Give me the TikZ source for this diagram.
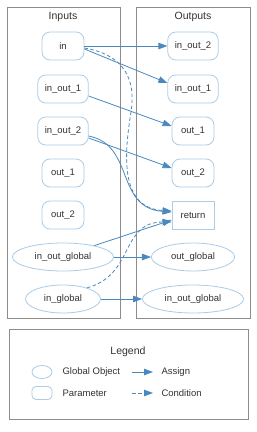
\documentclass[tikz,border=0pt]{standalone}
\usepackage{fontspec}
\setmainfont{Liberation Sans}
\usepackage{tikz}
\usetikzlibrary{arrows.meta, positioning, shapes.geometric}
\definecolor{nodeBorder}{HTML}{A9CCE9}
\definecolor{edgeBlue}{HTML}{4A89BF}
\definecolor{clusterGray}{HTML}{8C8C8C}

\begin{document}
\begin{tikzpicture}[x=1pt, y=-1pt,
    every node/.style={font=\fontsize{9.5}{11}\selectfont, text=black!80},
    param/.style={
        rectangle, rounded corners=8pt, draw=nodeBorder, line width=0.8pt,
        minimum width=42pt, minimum height=28pt, inner xsep=7pt,
    },
    retbox/.style={
        rectangle, draw=nodeBorder, line width=0.8pt,
        minimum width=42pt, minimum height=28pt,
    },
    globalobj/.style={
        ellipse, draw=nodeBorder, line width=0.8pt,
        minimum height=28pt, inner xsep=7.5pt,
    },
    cluster/.style={draw=clusterGray, line width=0.8pt},
    clustertitle/.style={font=\fontsize{10.5}{12}\selectfont},
    assign/.style={
        draw=edgeBlue, line width=0.8pt,
        -{Triangle[length=9pt, width=6.5pt]},
    },
    condition/.style={assign, dash pattern=on 3.5pt off 2.5pt},
]

\def\colIn{63}
\def\colOut{193}

% Canvas
\fill[white] (0, 0) rectangle (257, 432);
\useasboundingbox (0, 0) rectangle (257, 432);

% ── Cluster: Inputs ────────────────────────────────────────────────────
\draw[cluster] (7, 7) rectangle (120, 318);
\node[clustertitle] (tIn) at (\colIn, 17) {Inputs};

\node[param]     (in)      at (\colIn, 46)  {in};
\node[param]     (inIO1)   at (\colIn, 89)  {in\_out\_1};
\node[param]     (inIO2)   at (\colIn, 131) {in\_out\_2};
\node[param]     (inO1)    at (\colIn, 173) {out\_1};
\node[param]     (inO2)    at (\colIn, 215) {out\_2};
\node[globalobj] (inIOG)   at (\colIn, 257) {in\_out\_global};
\node[globalobj] (inG)     at (\colIn, 299) {in\_global};

% ── Cluster: Outputs ───────────────────────────────────────────────────
\draw[cluster] (136, 7) rectangle (250, 318);
\node[clustertitle] (tOut) at (\colOut, 17) {Outputs};

\node[param]     (outIO2)  at (\colOut, 46)  {in\_out\_2};
\node[param]     (outIO1)  at (\colOut, 89)  {in\_out\_1};
\node[param]     (outO1)   at (\colOut, 131) {out\_1};
\node[param]     (outO2)   at (\colOut, 173) {out\_2};
\node[retbox]    (ret)     at (\colOut, 215) {return};
\node[globalobj] (outOG)   at (\colOut, 257) {out\_global};
\node[globalobj] (outIOG)  at (\colOut, 299) {in\_out\_global};

% ── Edges ──────────────────────────────────────────────────────────────
\draw[assign] (in.east) -- (outIO2.west);
\draw[assign] ([yshift=-3pt]in.east) -- ([yshift=6pt]outIO1.west);
\draw[condition] ([yshift=-2pt]in.east)
    .. controls (125, 55) and (136, 80) .. (131, 112)
    .. controls (125, 150) and (118, 208) .. ([yshift=4pt]ret.west);

\draw[assign] ([yshift=-7pt]inIO1.east) -- ([yshift=5pt]outO1.west);

\draw[assign] ([yshift=-7pt]inIO2.east) -- ([yshift=5pt]outO2.west);
\draw[assign] ([yshift=-5pt]inIO2.east)
    .. controls (135, 145) and (115, 208) .. ([yshift=3pt]ret.west);

\draw[assign] (inIOG.20) -- ([yshift=-5pt]ret.west);
\draw[assign] (inIOG.east) -- (outOG.west);

\draw[condition] (inG.25)
    .. controls (135, 275) and (120, 222) .. ([yshift=-7pt]ret.west);
\draw[assign] (inG.east) -- (outIOG.west);

% ── Legend ─────────────────────────────────────────────────────────────
\draw[cluster] (9, 329) rectangle (248, 419);
\node[clustertitle] (tLeg) at (128, 352) {Legend};

\node[ellipse, draw=nodeBorder, line width=0.8pt,
      minimum width=20pt, minimum height=13pt, inner sep=0pt] (lgGlob) at (42, 372) {};
\node[anchor=west] (lgGlobTxt) at (59, 372) {Global Object};
\node[rectangle, rounded corners=4pt, draw=nodeBorder, line width=0.8pt,
      minimum width=20pt, minimum height=13pt, inner sep=0pt] (lgPar) at (42, 393) {};
\node[anchor=west] (lgParTxt) at (59, 393) {Parameter};

\coordinate (asgA) at (132, 372);
\coordinate (asgB) at (153, 372);
\coordinate (cndA) at (132, 393);
\coordinate (cndB) at (153, 393);
\draw[assign] (asgA) -- (asgB);
\draw[condition] (cndA) -- (cndB);
\node[anchor=west] (lgAsg) at (158, 372) {Assign};
\node[anchor=west] (lgCnd) at (158, 393) {Condition};

\end{tikzpicture}
\end{document}
